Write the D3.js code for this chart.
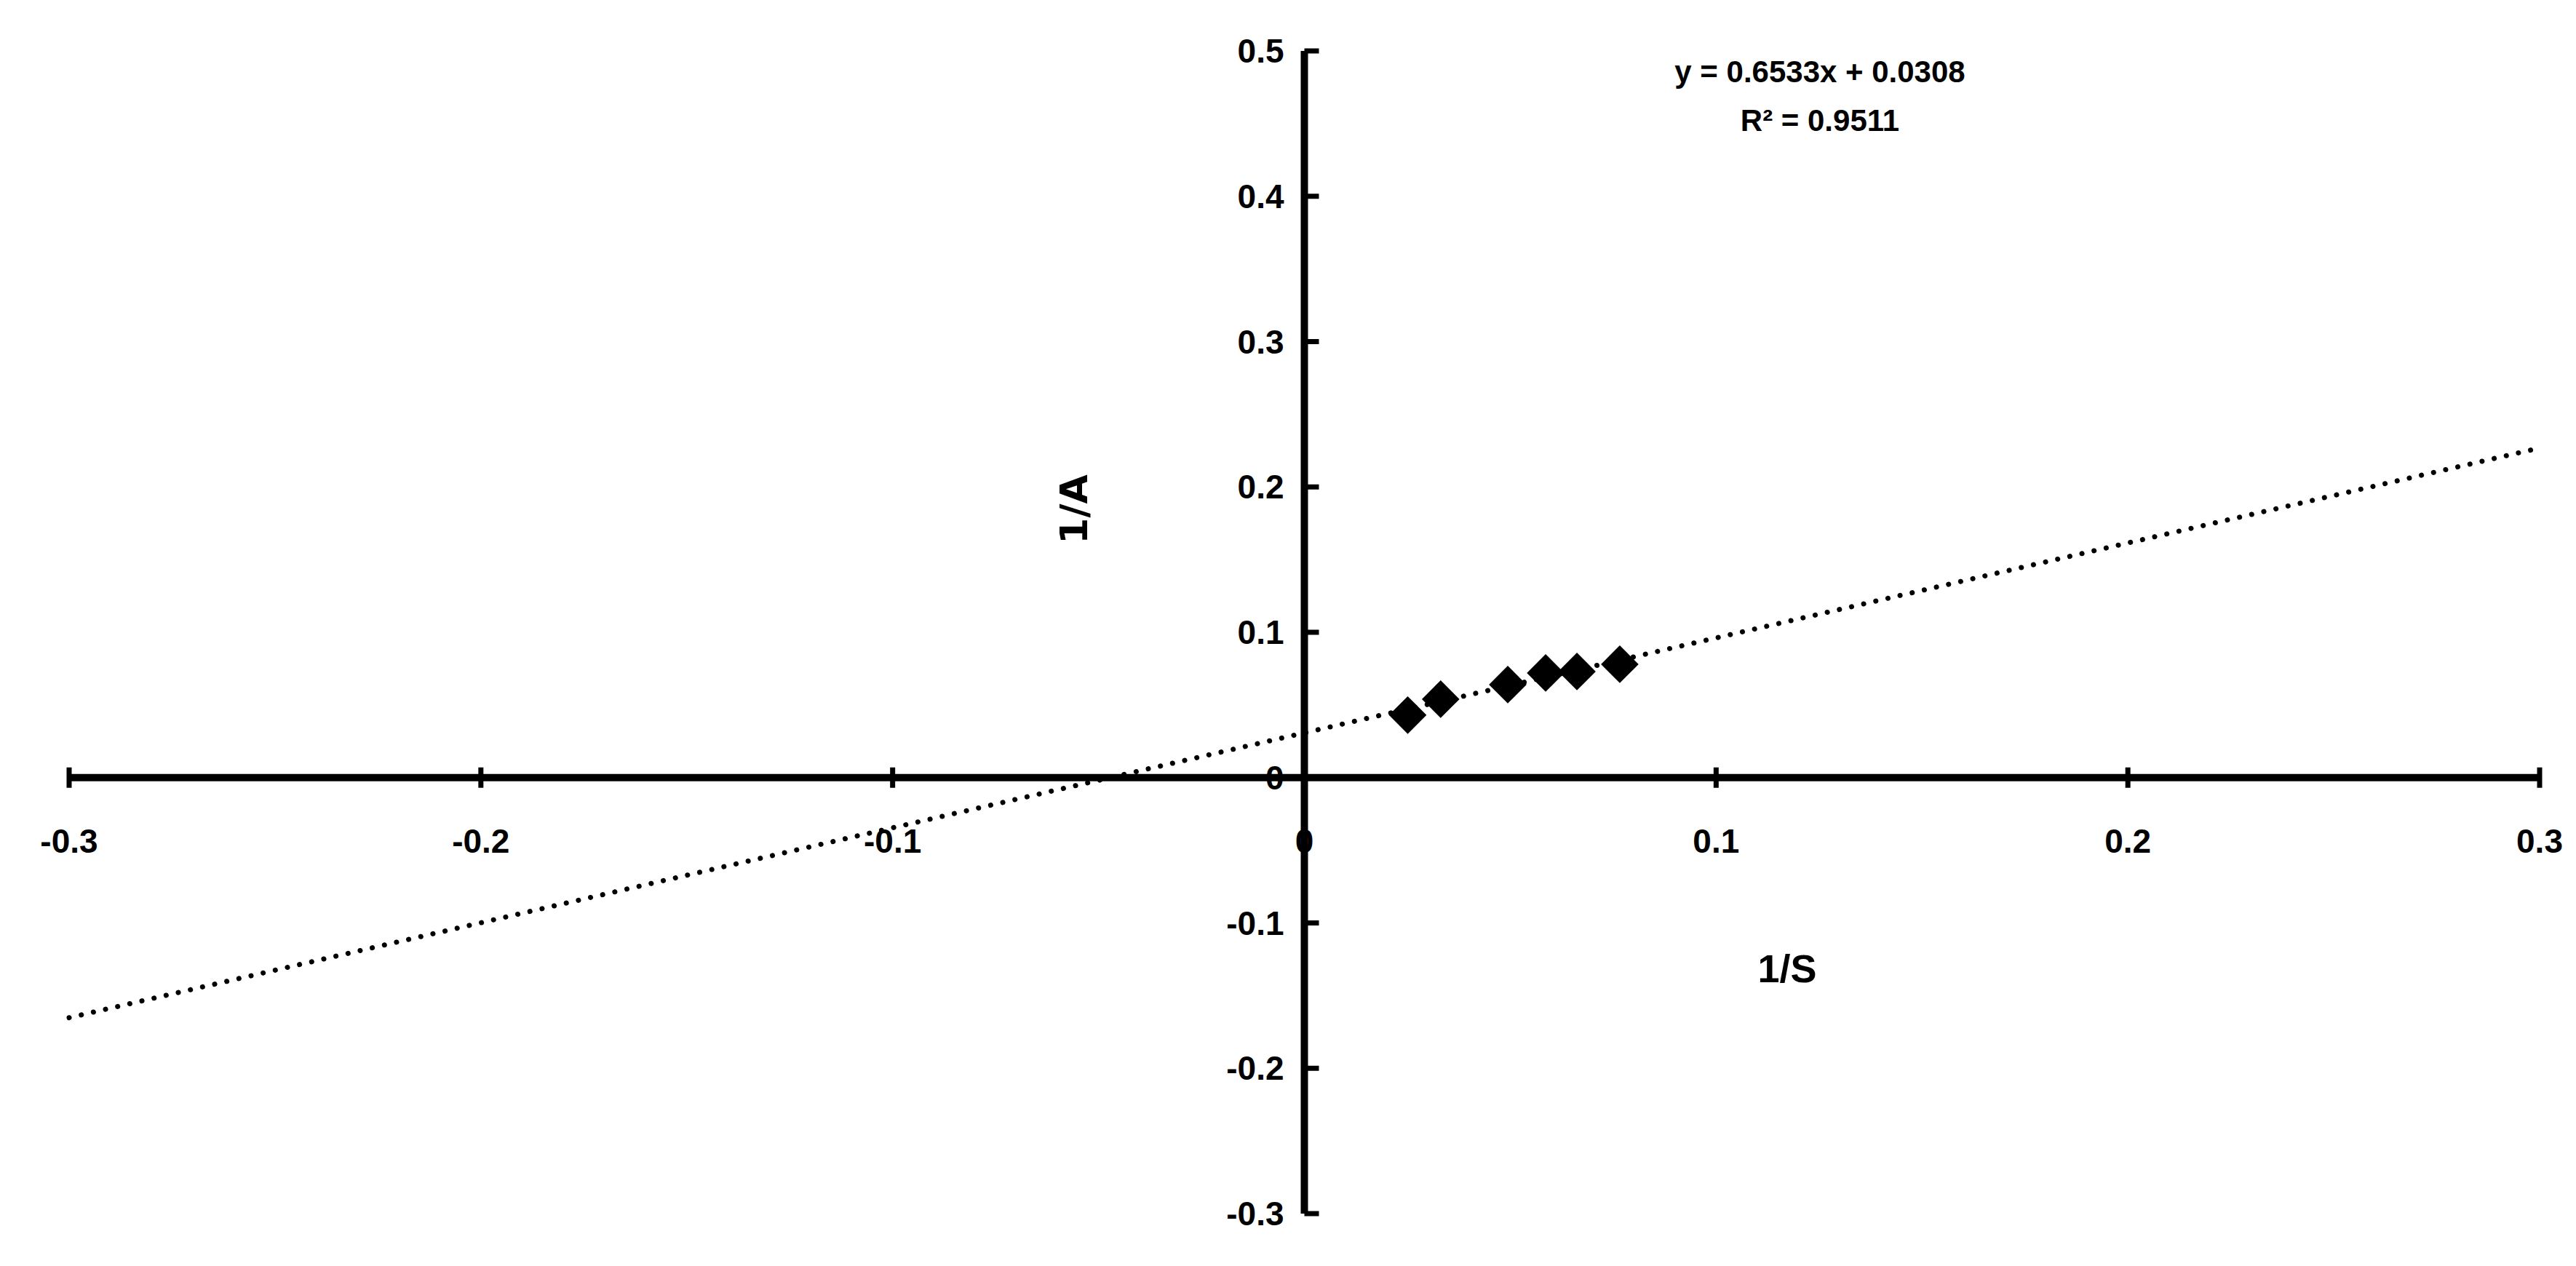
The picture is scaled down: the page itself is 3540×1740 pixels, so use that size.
<!DOCTYPE html>
<html>
<head>
<meta charset="utf-8">
<script src="https://cdn.jsdelivr.net/npm/d3@7"></script>
<style>
  body { margin: 0; background: #fff; }
  text { font-family: "Liberation Sans Narrow", "Liberation Sans", sans-serif; font-weight: bold; fill: #000; }
</style>
</head>
<body>
<svg id="chart" width="3540" height="1740"></svg>
<script>
// Data
const invS = [0.0251, 0.0331, 0.0494, 0.0586, 0.0662, 0.0766];
const invA = [0.043, 0.054, 0.064, 0.072, 0.073, 0.078];
const xTicks = [-0.3, -0.2, -0.1, 0.1, 0.2, 0.3];
const yTicks = [-0.3, -0.2, -0.1, 0, 0.1, 0.2, 0.3, 0.4, 0.5];
const slope = 0.6533, intercept = 0.0308;
const trendX = [-0.3, 0.3];

const svg = d3.select("#chart");
const x = d3.scaleLinear().domain([-0.3, 0.3]).range([95, 3490]);
const y = d3.scaleLinear().domain([-0.3, 0.5]).range([1668, 70]);
const fmt = (d) => (d === 0 ? "0" : d.toFixed(1));

// Trendline (dotted)
svg.append("line")
  .attr("x1", x(trendX[0])).attr("y1", y(slope * trendX[0] + intercept))
  .attr("x2", x(trendX[1])).attr("y2", y(slope * trendX[1] + intercept))
  .attr("stroke", "#000").attr("stroke-width", 7)
  .attr("stroke-linecap", "round").attr("stroke-dasharray", "0.1 17");

// X axis
svg.append("line")
  .attr("x1", x(-0.3)).attr("x2", x(0.3))
  .attr("y1", y(0)).attr("y2", y(0))
  .attr("stroke", "#000").attr("stroke-width", 10);
svg.selectAll(".xt").data(xTicks.concat([0])).join("line")
  .attr("x1", (d) => x(d)).attr("x2", (d) => x(d))
  .attr("y1", y(0) - 14).attr("y2", y(0) + 14)
  .attr("stroke", "#000").attr("stroke-width", 7);
svg.selectAll(".xl").data(xTicks.concat([0])).join("text")
  .attr("x", (d) => x(d)).attr("y", 1172)
  .attr("text-anchor", "middle").attr("font-size", 46)
  .text(fmt);

// Y axis
svg.append("line")
  .attr("x1", x(0)).attr("x2", x(0))
  .attr("y1", y(0.5)).attr("y2", y(-0.3))
  .attr("stroke", "#000").attr("stroke-width", 10);
svg.selectAll(".yt").data(yTicks).join("line")
  .attr("x1", x(0)).attr("x2", x(0) + 20)
  .attr("y1", (d) => y(d)).attr("y2", (d) => y(d))
  .attr("stroke", "#000").attr("stroke-width", 7);
svg.selectAll(".yl").data(yTicks).join("text")
  .attr("x", x(0) - 28).attr("y", (d) => y(d) + 16)
  .attr("text-anchor", "end").attr("font-size", 46)
  .text(fmt);

// Points
svg.selectAll(".pt").data(invS.map((d, i) => [d, invA[i]])).join("path")
  .attr("d", d3.symbol(d3.symbolDiamond2, 1700))
  .attr("transform", (d) => `translate(${x(d[0])},${y(d[1])})`)
  .attr("fill", "#000");

// Axis titles
svg.append("text")
  .attr("transform", "translate(1494,700) rotate(-90)")
  .attr("text-anchor", "middle").attr("font-size", 52)
  .style("font-family", "'DejaVu Sans', sans-serif")
  .text("1/A");
svg.append("text")
  .attr("x", 2456).attr("y", 1350)
  .attr("text-anchor", "middle").attr("font-size", 54)
  .text("1/S");

// Equation
svg.append("text")
  .attr("x", 2501).attr("y", 113)
  .attr("text-anchor", "middle").attr("font-size", 42)
  .text(`y = ${slope}x + ${intercept}`);
svg.append("text")
  .attr("x", 2501).attr("y", 180)
  .attr("text-anchor", "middle").attr("font-size", 42)
  .text("R² = 0.9511");
</script>
</body>
</html>
